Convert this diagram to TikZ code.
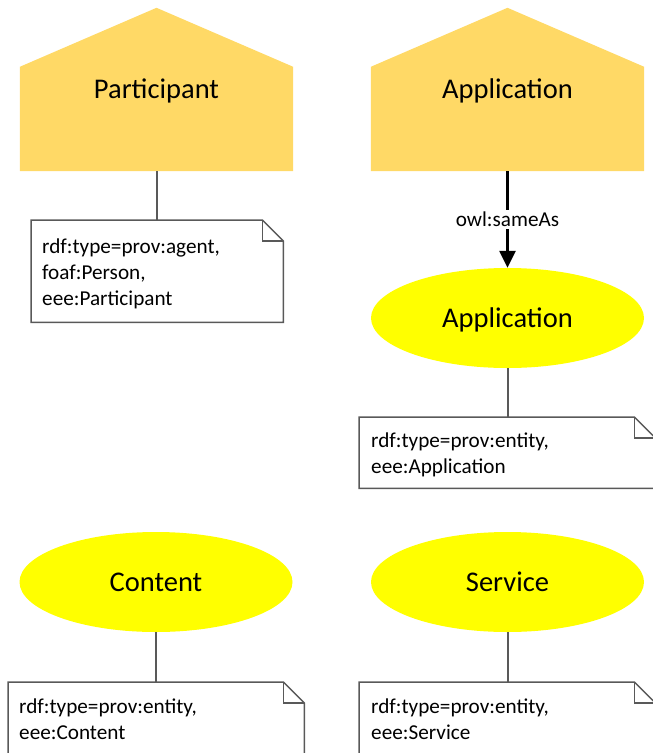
\documentclass[tikz,border=0pt]{standalone}
\usepackage{fontspec}
\setmainfont{Carlito}
\usetikzlibrary{shapes.geometric,arrows.meta,backgrounds}
\definecolor{housefill}{RGB}{255,217,102}
\definecolor{entfill}{RGB}{255,255,0}
\definecolor{linegray}{RGB}{89,89,89}
\tikzset{
  housebox/.style={rectangle, minimum width=273pt, minimum height=163pt, inner sep=0pt,
    font=\fontsize{28.5}{32}\selectfont, text height=19pt, text depth=1pt},
  entity/.style={ellipse, fill=entfill, minimum width=273pt, minimum height=100pt, inner sep=0pt,
    font=\fontsize{28.5}{32}\selectfont, text height=19pt, text depth=1pt},
  notebox/.style={rectangle, anchor=north west, inner sep=0pt},
  notetext/.style={anchor=north west, inner sep=0pt, align=left, font=\fontsize{21.2}{25.7}\selectfont},
  noteline/.style={draw=linegray, line width=1.5pt, fill=white, line join=miter},
  conn/.style={draw=linegray, line width=2pt},
  sameas/.style={draw=black, line width=2.5pt, -{Triangle[length=17pt, width=16pt]}},
  edgelabel/.style={fill=white, inner sep=2pt, font=\fontsize{21.2}{25}\selectfont}
}
\newcommand\mynote[1]{%
  \draw[noteline] (#1.north west) -- ([xshift=-21pt]#1.north east) -- ([yshift=-21pt]#1.north east)
     -- (#1.south east) -- (#1.south west) -- cycle;
  \draw[noteline, fill=none] ([xshift=-21pt]#1.north east) -- ([xshift=-21pt,yshift=-21pt]#1.north east)
     -- ([yshift=-21pt]#1.north east);}
\newcommand\myhouse[1]{%
  \fill[housefill] (#1.south west) -- (#1.south east) -- ([yshift=-59pt]#1.north east)
     -- (#1.north) -- ([yshift=-59pt]#1.north west) -- cycle;}
\begin{document}
\begin{tikzpicture}[x=1pt, y=-1pt]
\useasboundingbox (0,0) rectangle (653,753);

% houses (agents)
\node[housebox] (participant) at (156.5,89.5) {Participant};
\node[housebox] (apphouse) at (507.5,89.5) {Application};
\begin{pgfonlayer}{background}
  \myhouse{participant}
  \myhouse{apphouse}
\end{pgfonlayer}

% entities
\node[entity] (appent) at (507.5,318) {Application};
\node[entity] (content) at (156,582) {Content};
\node[entity] (service) at (507.5,582) {Service};

% note boxes
\node[notebox, minimum width=252pt, minimum height=102pt] (note1) at (31,220) {};
\node[notebox, minimum width=296pt, minimum height=71pt] (note2) at (359,417) {};
\node[notebox, minimum width=296pt, minimum height=90pt] (note3) at (8,682) {};
\node[notebox, minimum width=296pt, minimum height=90pt] (note4) at (359,682) {};

% connectors
\draw[conn] (participant.south) -- (note1.north -| participant.south);
\draw[conn] (appent.south) -- (note2.north -| appent.south);
\draw[conn] (content.south) -- (note3.north -| content.south);
\draw[conn] (service.south) -- (note4.north -| service.south);
\draw[sameas] (apphouse.south) -- node[edgelabel] (samelbl) {owl:sameAs} (appent.north);

\mynote{note1}
\mynote{note2}
\mynote{note3}
\mynote{note4}

\node[notetext] (t1) at (42,239) {rdf:type=prov:agent,\\foaf:Person,\\eee:Participant};
\node[notetext] (t2) at (371,433) {rdf:type=prov:entity,\\eee:Application};
\node[notetext] (t3) at (19,699) {rdf:type=prov:entity,\\eee:Content};
\node[notetext] (t4) at (371,699) {rdf:type=prov:entity,\\eee:Service};
\end{tikzpicture}
\end{document}
